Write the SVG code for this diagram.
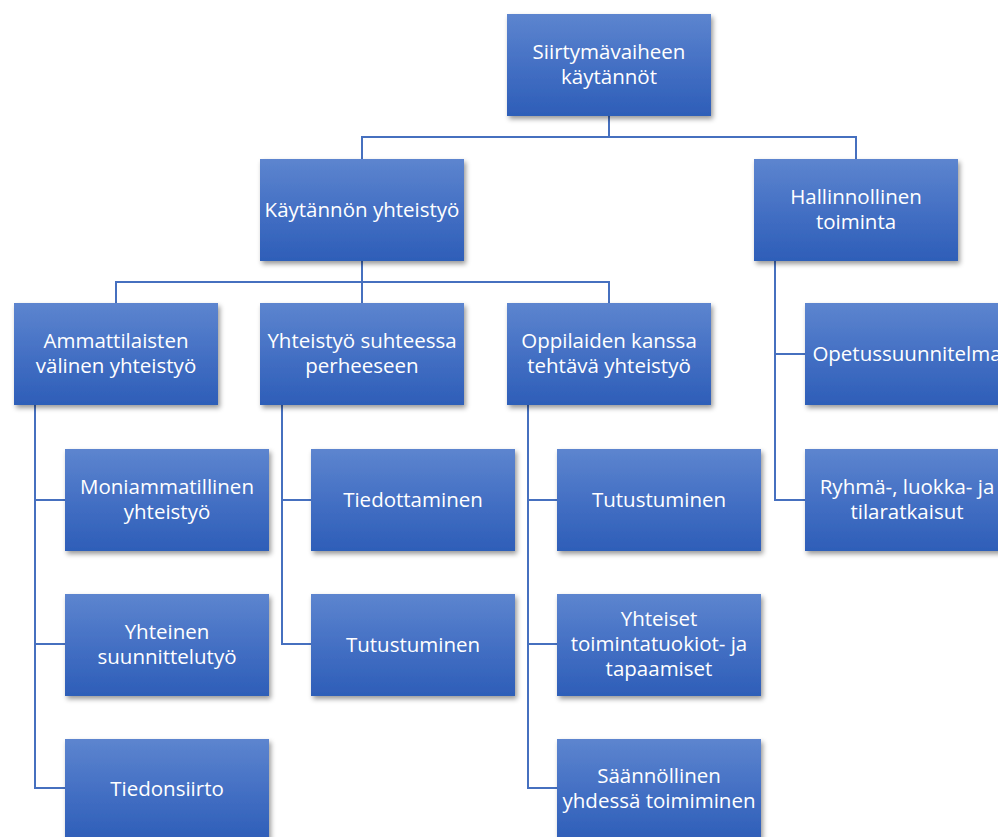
<svg xmlns="http://www.w3.org/2000/svg" width="998" height="837" viewBox="0 0 998 837">
<defs>
<linearGradient id="g" x1="0" y1="0" x2="0" y2="1">
<stop offset="0" stop-color="#5d85cf"/>
<stop offset="0.5" stop-color="#4470c4"/>
<stop offset="1" stop-color="#2e5eb8"/>
</linearGradient>
<filter id="sh" x="-10%" y="-10%" width="125%" height="130%">
<feDropShadow dx="2" dy="3" stdDeviation="2.5" flood-color="#000" flood-opacity="0.4"/>
</filter>
<style>
.box{fill:url(#g);filter:url(#sh);}
.t{font-family:"Open Sans","Liberation Sans",sans-serif;font-size:20.5px;fill:#ffffff;text-anchor:middle;}
.c{fill:none;stroke:#4670bf;stroke-width:2;}
</style>
</defs>
<rect width="998" height="837" fill="#ffffff"/>
<g id="connectors">
<path class="c" d="M609 116V137M362 159V137H856V159"/>
<path class="c" d="M362 261V282M116 303V282H609V303M362 282V303"/>
<path class="c" d="M775 261V500H805M775 354H805"/>
<path class="c" d="M35 405V788H65M35 500H65M35 644H65"/>
<path class="c" d="M282 405V644H311M282 500H311"/>
<path class="c" d="M528 405V788H557M528 500H557M528 644H557"/>
</g>
<g id="n-root"><rect class="box" x="507" y="14" width="204" height="102"/><text class="t" x="609" y="59">Siirtymävaiheen</text><text class="t" x="609" y="84">käytännöt</text></g>
<g id="n-kaytannon"><rect class="box" x="260" y="159" width="204" height="102"/><text class="t" x="362" y="217">Käytännön yhteistyö</text></g>
<g id="n-hallinnollinen"><rect class="box" x="754" y="159" width="204" height="102"/><text class="t" x="856" y="204">Hallinnollinen</text><text class="t" x="856" y="229">toiminta</text></g>
<g id="n-ammattilaisten"><rect class="box" x="14" y="303" width="204" height="102"/><text class="t" x="116" y="348">Ammattilaisten</text><text class="t" x="116" y="373">välinen yhteistyö</text></g>
<g id="n-perheeseen"><rect class="box" x="260" y="303" width="204" height="102"/><text class="t" x="362" y="348">Yhteistyö suhteessa</text><text class="t" x="362" y="373">perheeseen</text></g>
<g id="n-oppilaiden"><rect class="box" x="507" y="303" width="204" height="102"/><text class="t" x="609" y="348">Oppilaiden kanssa</text><text class="t" x="609" y="373">tehtävä yhteistyö</text></g>
<g id="n-opetussuunnitelma"><rect class="box" x="805" y="303" width="204" height="102"/><text class="t" x="907" y="361">Opetussuunnitelma</text></g>
<g id="n-ryhma"><rect class="box" x="805" y="449" width="204" height="102"/><text class="t" x="907" y="494">Ryhmä-, luokka- ja</text><text class="t" x="907" y="519">tilaratkaisut</text></g>
<g id="n-moniammatillinen"><rect class="box" x="65" y="449" width="204" height="102"/><text class="t" x="167" y="494">Moniammatillinen</text><text class="t" x="167" y="519">yhteistyö</text></g>
<g id="n-yhteinen"><rect class="box" x="65" y="594" width="204" height="102"/><text class="t" x="167" y="639">Yhteinen</text><text class="t" x="167" y="664">suunnittelutyö</text></g>
<g id="n-tiedonsiirto"><rect class="box" x="65" y="739" width="204" height="102"/><text class="t" x="167" y="796">Tiedonsiirto</text></g>
<g id="n-tiedottaminen"><rect class="box" x="311" y="449" width="204" height="102"/><text class="t" x="413" y="507">Tiedottaminen</text></g>
<g id="n-tutustuminen1"><rect class="box" x="311" y="594" width="204" height="102"/><text class="t" x="413" y="652">Tutustuminen</text></g>
<g id="n-tutustuminen2"><rect class="box" x="557" y="449" width="204" height="102"/><text class="t" x="659" y="507">Tutustuminen</text></g>
<g id="n-yhteiset"><rect class="box" x="557" y="594" width="204" height="102"/><text class="t" x="659" y="626">Yhteiset</text><text class="t" x="659" y="651">toimintatuokiot- ja</text><text class="t" x="659" y="676">tapaamiset</text></g>
<g id="n-saannollinen"><rect class="box" x="557" y="739" width="204" height="102"/><text class="t" x="659" y="783">Säännöllinen</text><text class="t" x="659" y="808">yhdessä toimiminen</text></g>
</svg>
